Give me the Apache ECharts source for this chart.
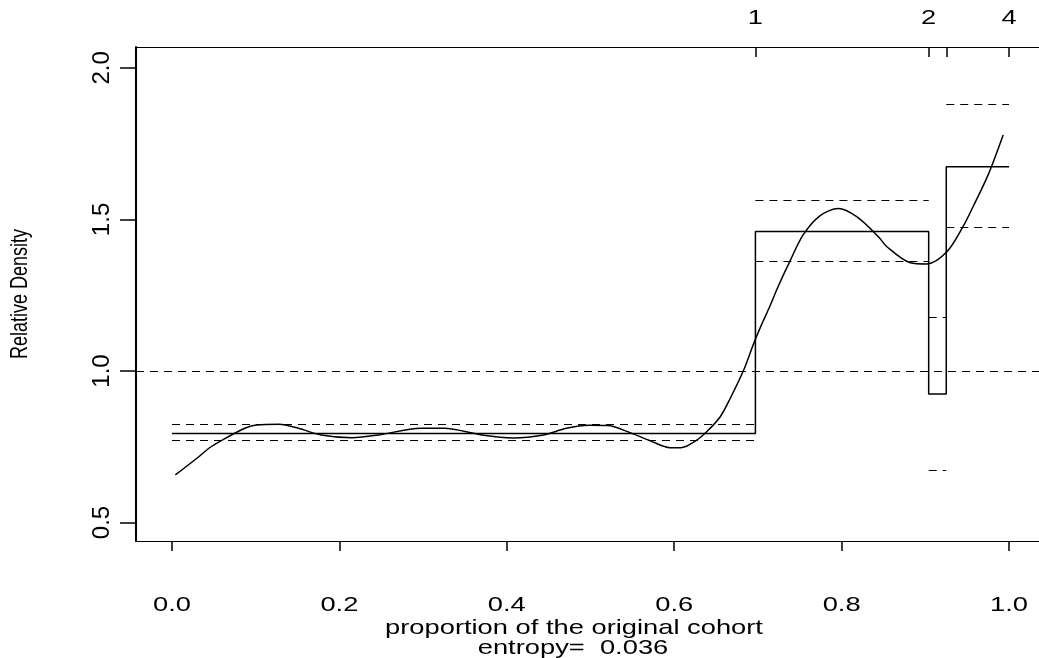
<!DOCTYPE html>
<html>
<head>
<meta charset="utf-8">
<script src="https://cdn.jsdelivr.net/npm/echarts@6/dist/echarts.min.js"></script>
<style>
html,body{margin:0;padding:0;background:#fff;}
#chart{width:1039px;height:658px;}
</style>
</head>
<body>
<div id="chart"></div>
<script>
// ---- data ----
var binEdges = [0, 0.697, 0.904, 0.925, 1.0];
var binDensity = [0.794, 1.46, 0.924, 1.674];
var ciUpper = [0.824, 1.563, 1.178, 1.881];
var ciLower = [0.771, 1.362, 0.671, 1.473];
var refLevel = 1.0;
var curveX = [0.004,0.032,0.044,0.060,0.087,0.101,0.128,0.151,0.178,0.215,0.247,0.297,0.325,0.370,0.407,0.444,0.471,0.498,0.521,0.544,0.572,0.595,0.608,0.627,0.639,0.655,0.667,0.683,0.695,0.705,0.714,0.724,0.738,0.754,0.774,0.796,0.818,0.844,0.854,0.882,0.902,0.926,0.945,0.957,0.975,0.993];
var curveY = [0.657,0.717,0.745,0.772,0.811,0.822,0.824,0.811,0.789,0.780,0.789,0.811,0.811,0.789,0.779,0.789,0.811,0.821,0.820,0.800,0.769,0.747,0.747,0.772,0.800,0.849,0.910,1.003,1.091,1.157,1.212,1.278,1.361,1.449,1.512,1.536,1.509,1.443,1.410,1.357,1.353,1.394,1.476,1.542,1.647,1.779];
var xTicks = [0, 0.2, 0.4, 0.6, 0.8, 1.0];
var yTicks = [0.5, 1.0, 1.5, 2.0];
var topTickPos = [0.697, 0.904, 0.925, 1.0];
var topTickLabels = ['1', '2', '', '4'];
var xTitle = 'proportion of the original cohort';
var subTitle = 'entropy=  0.036';
var yTitle = 'Relative Density';

var XMIN = -0.043, XMAX = 1.0358, YMIN = 0.439, YMAX = 2.069;

// ---- build ----
var stepData = binEdges.map(function (e, i) {
  return [e, binDensity[Math.min(i, binDensity.length - 1)]];
});
var ciLines = [];
for (var i = 0; i < binDensity.length; i++) {
  ciLines.push({coords: [[binEdges[i], ciUpper[i]], [binEdges[i + 1], ciUpper[i]]]});
  ciLines.push({coords: [[binEdges[i], ciLower[i]], [binEdges[i + 1], ciLower[i]]]});
}
ciLines.push({coords: [[XMIN, refLevel], [XMAX, refLevel]]});
var curveData = curveX.map(function (x, i) { return [x, curveY[i]]; });

var FONT = 'Liberation Sans, Arial, sans-serif';
var HFS = 21;      // horizontal text font size
var HSX = 1.3;     // horizontal stretch of the horizontal texts
var chart = echarts.init(document.getElementById('chart'), null, {renderer: 'canvas'});
chart.setOption({
  animation: false,
  backgroundColor: '#fff',
  grid: {left: 136, right: 0, top: 47, bottom: 117},
  xAxis: [{
    type: 'value', position: 'bottom', min: XMIN, max: XMAX,
    axisLine: {show: true, onZero: false, lineStyle: {color: '#000', width: 1.2}},
    axisTick: {show: true, customValues: xTicks, length: 10, lineStyle: {color: '#000', width: 1.5}},
    axisLabel: {show: false},
    splitLine: {show: false}
  }, {
    type: 'value', position: 'top', min: XMIN, max: XMAX,
    axisLine: {show: true, onZero: false, lineStyle: {color: '#000', width: 1.2}},
    axisTick: {show: true, inside: true, customValues: topTickPos, length: 10, lineStyle: {color: '#000', width: 1.5}},
    axisLabel: {show: false},
    splitLine: {show: false}
  }],
  yAxis: [{
    type: 'value', min: YMIN, max: YMAX,
    axisLine: {show: true, onZero: false, lineStyle: {color: '#000', width: 2}},
    axisTick: {show: true, customValues: yTicks, length: 16, lineStyle: {color: '#000', width: 1.5}},
    axisLabel: {customValues: yTicks, rotate: 90, margin: 22, color: '#000', fontSize: 24, fontFamily: FONT,
      formatter: function (v) { return v.toFixed(1); }},
    splitLine: {show: false}
  }],
  series: [
    {
      type: 'lines', coordinateSystem: 'cartesian2d', xAxisIndex: 0, yAxisIndex: 0,
      data: ciLines, symbol: 'none',
      lineStyle: {color: '#000', width: 1.2, type: [8, 6], opacity: 1}
    },
    {
      type: 'line', data: stepData, step: 'end', symbol: 'none', xAxisIndex: 0,
      lineStyle: {color: '#000', width: 1.5}
    },
    {
      type: 'line', data: curveData, smooth: 0.3, symbol: 'none', xAxisIndex: 0,
      lineStyle: {color: '#000', width: 1.5}
    }
  ]
});

// horizontally stretched labels, placed through the axis scale
function htext(txt, x, y) {
  return {type: 'text', x: x, y: y, scaleX: HSX, silent: true,
    style: {text: txt, fill: '#000', font: HFS + 'px ' + FONT, align: 'center', verticalAlign: 'middle'}};
}
var gfx = [];
xTicks.forEach(function (v) {
  gfx.push(htext(v.toFixed(1), chart.convertToPixel({xAxisIndex: 0}, v), 605));
});
topTickPos.forEach(function (v, k) {
  if (topTickLabels[k]) gfx.push(htext(topTickLabels[k], chart.convertToPixel({xAxisIndex: 1}, v), 18));
});
gfx.push(htext(xTitle, 574, 628));
gfx.push(htext(subTitle, 573, 648));
gfx.push({type: 'text', x: 20, y: 294, rotation: Math.PI / 2, scaleX: 0.75, scaleY: 1.0, silent: true,
  style: {text: yTitle, fill: '#000', font: '24px ' + FONT, align: 'center', verticalAlign: 'middle'}});
chart.setOption({graphic: gfx});
</script>
</body>
</html>
